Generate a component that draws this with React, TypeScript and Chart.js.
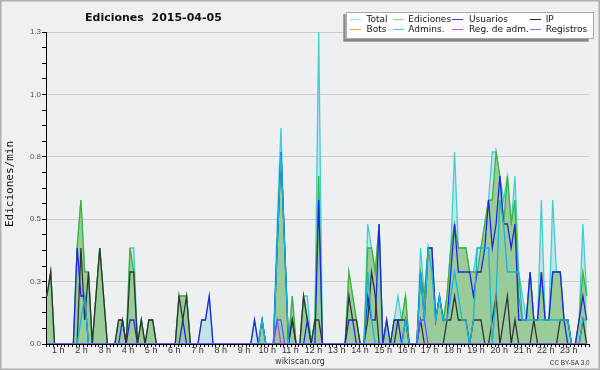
import React, { useEffect, useRef } from 'react';
import { Chart, registerables } from 'chart.js';

Chart.register(...registerables);

const TITLE = 'Ediciones  2015-04-05';
const Y_TITLE = 'Ediciones/min';
const HOUR_LABELS = ['1 h', '2 h', '3 h', '4 h', '5 h', '6 h', '7 h', '8 h', '9 h', '10 h', '11 h', '12 h',
  '13 h', '14 h', '15 h', '16 h', '17 h', '18 h', '19 h', '20 h', '21 h', '22 h', '23 h'];
const Y_TICK_LABELS = ['0.0', '0.3', '0.5', '0.8', '1.0', '1.3'];
const Y_MAX = 1.3;

// 144 ten-minute bins, edits per minute
const TOTAL = [
  0.2, 0.3, 0, 0, 0, 0,
  0, 0, 0.4, 0.6, 0.3, 0.3,
  0, 0.2, 0.4, 0.2, 0, 0,
  0, 0.1, 0.1, 0, 0.4, 0.4,
  0, 0.1, 0, 0.1, 0.1, 0,
  0, 0, 0, 0, 0, 0.2,
  0.2, 0.2, 0, 0, 0, 0.1,
  0.1, 0.2, 0, 0, 0, 0,
  0, 0, 0, 0, 0, 0,
  0, 0.1, 0, 0.1, 0, 0,
  0, 0.5, 0.9, 0.4, 0, 0.2,
  0, 0, 0.2, 0.2, 0, 0.1,
  1.3, 0, 0, 0, 0, 0,
  0, 0, 0.3, 0.2, 0.1, 0,
  0, 0.5, 0.4, 0.3, 0.5, 0,
  0.1, 0, 0.1, 0.2, 0.1, 0.2,
  0, 0, 0, 0.4, 0.2, 0.4,
  0.4, 0.1, 0.2, 0.1, 0.2, 0.4,
  0.8, 0.4, 0.4, 0.4, 0.3, 0.3,
  0.4, 0.4, 0.5, 0.6, 0.8, 0.8,
  0.7, 0.6, 0.7, 0.5, 0.7, 0.3,
  0.2, 0.1, 0.3, 0.1, 0.1, 0.6,
  0.1, 0.1, 0.6, 0.3, 0.3, 0.1,
  0.1, 0, 0, 0.1, 0.5, 0.2,
];

const EDITS = [
  0.2, 0.3, 0, 0, 0, 0,
  0, 0, 0.4, 0.6, 0.3, 0.3,
  0, 0.2, 0.4, 0.2, 0, 0,
  0, 0.1, 0.1, 0, 0.4, 0.3,
  0, 0.1, 0, 0.1, 0.1, 0,
  0, 0, 0, 0, 0, 0.2,
  0.2, 0.2, 0, 0, 0, 0,
  0, 0, 0, 0, 0, 0,
  0, 0, 0, 0, 0, 0,
  0, 0, 0, 0.1, 0, 0,
  0, 0.4, 0.8, 0.4, 0, 0.2,
  0, 0, 0.2, 0.1, 0, 0.1,
  0.7, 0, 0, 0, 0, 0,
  0, 0, 0.3, 0.2, 0.1, 0,
  0, 0.4, 0.4, 0.3, 0.5, 0,
  0.1, 0, 0.1, 0.1, 0.1, 0.2,
  0, 0, 0, 0.3, 0.2, 0.4,
  0.4, 0.1, 0.2, 0.1, 0.2, 0.4,
  0.5, 0.4, 0.4, 0.4, 0.3, 0.3,
  0.3, 0.4, 0.5, 0.6, 0.6, 0.8,
  0.7, 0.5, 0.7, 0.5, 0.6, 0.2,
  0.1, 0.1, 0.3, 0.1, 0.1, 0.3,
  0.1, 0.1, 0.3, 0.3, 0.3, 0.1,
  0.1, 0, 0, 0.1, 0.3, 0.2,
];

const USERS = [
  0, 0, 0, 0, 0, 0,
  0, 0, 0.4, 0.2, 0.2, 0,
  0, 0, 0, 0, 0, 0,
  0, 0, 0.1, 0, 0.1, 0.1,
  0, 0, 0, 0, 0, 0,
  0, 0, 0, 0, 0, 0,
  0.1, 0, 0, 0, 0, 0.1,
  0.1, 0.2, 0, 0, 0, 0,
  0, 0, 0, 0, 0, 0,
  0, 0.1, 0, 0.1, 0, 0,
  0, 0.4, 0.8, 0.4, 0, 0.1,
  0, 0, 0, 0.1, 0, 0,
  0.6, 0, 0, 0, 0, 0,
  0, 0, 0.1, 0.1, 0, 0,
  0, 0.2, 0.1, 0.1, 0.5, 0,
  0.1, 0, 0.1, 0.1, 0, 0.1,
  0, 0, 0, 0.3, 0.1, 0.4,
  0.4, 0.1, 0.2, 0.1, 0.1, 0.3,
  0.5, 0.3, 0.3, 0.3, 0.3, 0.2,
  0.3, 0.3, 0.4, 0.6, 0.4, 0.5,
  0.7, 0.5, 0.5, 0.4, 0.5, 0.1,
  0.1, 0.1, 0.3, 0.1, 0.1, 0.3,
  0.1, 0.1, 0.3, 0.3, 0.3, 0.1,
  0, 0, 0, 0.1, 0.2, 0.1,
];

const IP = [
  0.2, 0.3, 0, 0, 0, 0,
  0, 0, 0, 0.4, 0.1, 0.3,
  0, 0.2, 0.4, 0.2, 0, 0,
  0, 0.1, 0.1, 0, 0.3, 0.3,
  0, 0.1, 0, 0.1, 0.1, 0,
  0, 0, 0, 0, 0, 0.2,
  0.1, 0.2, 0, 0, 0, 0,
  0, 0, 0, 0, 0, 0,
  0, 0, 0, 0, 0, 0,
  0, 0, 0, 0, 0, 0,
  0, 0, 0, 0, 0, 0.1,
  0, 0, 0.2, 0.1, 0, 0.1,
  0.1, 0, 0, 0, 0, 0,
  0, 0, 0.2, 0.1, 0.1, 0,
  0, 0.1, 0.3, 0.2, 0, 0,
  0, 0, 0, 0.1, 0.1, 0.1,
  0, 0, 0, 0.1, 0, 0,
  0, 0, 0, 0, 0.1, 0.1,
  0.2, 0.1, 0.1, 0.1, 0, 0.1,
  0.1, 0.1, 0, 0, 0.1, 0.2,
  0, 0.1, 0.2, 0, 0.1, 0,
  0, 0, 0, 0.1, 0, 0,
  0, 0, 0, 0, 0.1, 0.1,
  0.1, 0, 0, 0, 0.1, 0,
];

const ADMINS = [
  0, 0, 0, 0, 0, 0,
  0, 0, 0, 0.1, 0.2, 0,
  0, 0, 0, 0, 0, 0,
  0, 0, 0, 0, 0, 0,
  0, 0, 0, 0, 0, 0,
  0, 0, 0, 0, 0, 0,
  0, 0, 0, 0, 0, 0,
  0, 0, 0, 0, 0, 0,
  0, 0, 0, 0, 0, 0,
  0, 0, 0, 0.1, 0, 0,
  0, 0.4, 0.8, 0.4, 0, 0,
  0, 0, 0, 0, 0, 0,
  0, 0, 0, 0, 0, 0,
  0, 0, 0, 0, 0, 0,
  0, 0.3, 0.1, 0, 0, 0,
  0, 0, 0, 0, 0, 0.1,
  0, 0, 0, 0.3, 0.1, 0.4,
  0.3, 0.1, 0.2, 0.1, 0.1, 0.2,
  0.3, 0.2, 0.1, 0.1, 0, 0.1,
  0.4, 0.4, 0.4, 0.4, 0, 0.2,
  0.6, 0.5, 0.3, 0.3, 0.3, 0.3,
  0.1, 0.1, 0.1, 0.1, 0.1, 0.1,
  0.1, 0.1, 0.1, 0.1, 0.1, 0.1,
  0.1, 0, 0, 0, 0.1, 0.1,
];

const ADMIN_LOGS = [
  0, 0, 0, 0, 0, 0, 0, 0, 0, 0, 0, 0,
  0, 0, 0, 0, 0, 0, 0, 0, 0, 0, 0, 0,
  0, 0, 0, 0, 0, 0, 0, 0, 0, 0, 0, 0,
  0, 0, 0, 0, 0, 0, 0, 0, 0, 0, 0, 0,
  0, 0, 0, 0, 0, 0, 0, 0, 0, 0, 0, 0,
  0, 0.1, 0, 0, 0, 0, 0, 0, 0, 0, 0, 0,
  0, 0, 0, 0, 0, 0, 0, 0, 0, 0, 0, 0,
  0, 0, 0, 0, 0, 0, 0, 0, 0, 0, 0, 0,
  0, 0, 0, 0, 0, 0, 0, 0, 0, 0, 0, 0,
  0, 0, 0, 0, 0, 0, 0, 0, 0, 0, 0, 0,
  0, 0, 0, 0, 0, 0, 0, 0, 0, 0, 0, 0,
  0, 0, 0, 0, 0, 0, 0, 0, 0, 0, 0, 0,
];

const LOGS = [
  0, 0, 0, 0, 0, 0, 0, 0, 0, 0, 0, 0,
  0, 0, 0, 0, 0, 0, 0, 0, 0, 0, 0, 0,
  0, 0, 0, 0, 0, 0, 0, 0, 0, 0, 0, 0,
  0, 0, 0, 0, 0, 0, 0, 0, 0, 0, 0, 0,
  0, 0, 0, 0, 0, 0, 0, 0, 0, 0, 0, 0,
  0, 0.1, 0.1, 0, 0, 0, 0, 0, 0, 0, 0, 0,
  0, 0, 0, 0, 0, 0, 0, 0, 0, 0, 0, 0,
  0, 0, 0, 0, 0, 0, 0, 0, 0, 0, 0, 0,
  0, 0, 0, 0.1, 0.1, 0, 0, 0, 0, 0, 0, 0,
  0, 0, 0, 0, 0, 0, 0, 0, 0, 0, 0, 0,
  0, 0, 0, 0, 0, 0, 0, 0, 0, 0, 0, 0,
  0, 0, 0, 0, 0, 0, 0, 0, 0, 0, 0, 0,
];

const LEGEND = [
  { label: 'Total', color: '#a6e2dc' },
  { label: 'Ediciones', color: '#8fd48f' },
  { label: 'Usuarios', color: '#3a3ad8' },
  { label: 'IP', color: '#2a2a2a' },
  { label: 'Bots', color: '#f5a038' },
  { label: 'Admins.', color: '#3ccde0' },
  { label: 'Reg. de adm.', color: '#d048e0' },
  { label: 'Registros', color: '#7a72ee' },
];

const decor = {
  id: 'decor',
  beforeDraw(chart: any) {
    const { ctx, chartArea: a, width, height } = chart;
    ctx.save();
    ctx.fillStyle = '#f0f0f0';
    ctx.fillRect(0, 0, width, height);
    ctx.fillStyle = '#eeeff1';
    ctx.fillRect(a.left, a.top, a.right - a.left, a.bottom - a.top);
    ctx.restore();
  },
  afterDraw(chart: any) {
    const { ctx, chartArea: a, width, height } = chart;
    ctx.save();
    // title
    ctx.fillStyle = '#111';
    ctx.font = 'bold 11px "DejaVu Sans"';
    ctx.textAlign = 'left';
    ctx.textBaseline = 'alphabetic';
    ctx.fillText(TITLE, 85, 21);
    // y title
    ctx.save();
    ctx.translate(13.3, (a.top + a.bottom) / 2 - 4);
    ctx.rotate(-Math.PI / 2);
    ctx.textAlign = 'center';
    ctx.font = '11px "DejaVu Sans Mono"';
    ctx.fillStyle = '#111';
    ctx.fillText(Y_TITLE, 0, 0);
    ctx.restore();
    // legend box
    ctx.fillStyle = '#888888';
    ctx.fillRect(343.3, 14, 245.4, 27.7);
    ctx.fillStyle = '#ffffff';
    ctx.fillRect(345.7, 11.7, 248.3, 27.3);
    ctx.strokeStyle = '#a8a8a8';
    ctx.lineWidth = 1;
    ctx.strokeRect(346.5, 12.5, 247, 26);
    const colsSw = [350, 393, 452, 530];
    const colsTx = [366.5, 408.3, 469, 545.7];
    const rowsSw = [19, 29];
    const rowsTx = [22.4, 32.4];
    ctx.font = '9px "DejaVu Sans"';
    ctx.textAlign = 'left';
    LEGEND.forEach((it, k) => {
      const c = k % 4;
      const r = Math.floor(k / 4);
      ctx.strokeStyle = it.color;
      ctx.lineWidth = 1;
      ctx.beginPath();
      ctx.moveTo(colsSw[c], rowsSw[r] + 0.5);
      ctx.lineTo(colsSw[c] + 11, rowsSw[r] + 0.5);
      ctx.stroke();
      ctx.fillStyle = '#111';
      ctx.fillText(it.label, colsTx[c], rowsTx[r]);
    });
    // footer
    ctx.fillStyle = '#333';
    ctx.font = '8px "DejaVu Sans"';
    ctx.textAlign = 'center';
    ctx.fillText('wikiscan.org', 300, 363.5);
    ctx.font = '6.3px "Liberation Sans"';
    ctx.textAlign = 'right';
    ctx.fillText('CC BY-SA 3.0', 589.5, 364.5);
    // outer border
    ctx.strokeStyle = '#b0b0b0';
    ctx.lineWidth = 1.5;
    ctx.strokeRect(0.75, 0.75, width - 1.5, height - 1.5);
    ctx.restore();
  },
};

export default function App() {
  const ref = useRef<HTMLCanvasElement>(null);
  useEffect(() => {
    document.body.style.margin = '0';
    const canvas = ref.current;
    if (!canvas) return;
    const pts = (arr: number[]) => arr.map((y, i) => ({ x: i, y }));
    const line = (label: string, data: number[], color: string, order: number, extra: any = {}) => ({
      label,
      data: pts(data),
      borderColor: color,
      borderWidth: 1.3,
      pointRadius: 0,
      tension: 0,
      fill: false,
      order,
      ...extra,
    });
    const chart = new Chart(canvas, {
      type: 'line',
      data: {
        datasets: [
          line('Total', TOTAL, '#40d0d0', 8, { fill: 'origin', backgroundColor: '#c4e2ea' }),
          line('Ediciones', EDITS, '#3cb43c', 7, { fill: 'origin', backgroundColor: '#99cc99' }),
          line('Usuarios', USERS, '#2424e4', 6),
          line('IP', IP, '#333333', 5),
          line('Admins.', ADMINS, '#14b6dc', 4),
          line('Reg. de adm.', ADMIN_LOGS, '#c040e0', 3),
          line('Registros', LOGS, '#5a5aff', 2),
        ],
      },
      options: {
        animation: false,
        responsive: false,
        devicePixelRatio: 1,
        events: [],
        layout: { padding: { left: 0, right: 10.5, top: 32, bottom: 9 } },
        plugins: { legend: { display: false }, tooltip: { enabled: false }, title: { display: false } },
        scales: {
          x: {
            type: 'linear',
            position: 'bottom',
            weight: 0,
            min: -0.25,
            max: 143.75,
            afterBuildTicks: (s: any) => {
              s.ticks = Array.from({ length: 145 }, (_, k) => ({ value: k - 0.25 }));
            },
            ticks: { display: false, autoSkip: false },
            grid: { drawOnChartArea: false, drawTicks: true, tickLength: 3, color: '#000', tickColor: '#000', lineWidth: 1 },
            border: { display: true, color: '#000', width: 1 },
            afterFit: (s: any) => { s.height = 3; },
          },
          xh: {
            type: 'linear',
            position: 'bottom',
            weight: 1,
            min: 0.47,
            max: 23.89,
            afterBuildTicks: (s: any) => {
              s.ticks = HOUR_LABELS.map((_, k) => ({ value: k + 1 }));
            },
            ticks: {
              autoSkip: false,
              maxRotation: 0,
              padding: -1,
              color: '#333',
              font: { family: '"Liberation Sans"', size: 9, lineHeight: 1 },
              callback: (_v: any, idx: number) => HOUR_LABELS[idx],
            },
            grid: { display: false, drawTicks: false },
            border: { display: false },
            afterFit: (s: any) => { s.height = 14; },
          },
          y: {
            type: 'linear',
            position: 'left',
            min: 0,
            max: Y_MAX,
            afterBuildTicks: (s: any) => {
              s.ticks = Array.from({ length: 21 }, (_, k) => ({ value: (k * Y_MAX) / 20 }));
            },
            ticks: {
              autoSkip: false,
              padding: 1,
              color: '#555',
              font: { family: '"Liberation Sans"', size: 8 },
              callback: (_v: any, idx: number) => (idx % 4 === 0 ? Y_TICK_LABELS[idx / 4] : ''),
            },
            grid: {
              color: (c: any) => (c.index % 4 === 0 ? '#cccccc' : 'rgba(0,0,0,0)'),
              tickColor: '#000',
              tickLength: 4,
              drawTicks: true,
              lineWidth: 1,
            },
            border: { display: true, color: '#000', width: 1 },
            afterFit: (s: any) => { s.width = 46; },
          },
        },
      },
      plugins: [decor],
    } as any);
    return () => chart.destroy();
  }, []);
  return <canvas ref={ref} width={600} height={370} style={{ display: 'block' }} />;
}
